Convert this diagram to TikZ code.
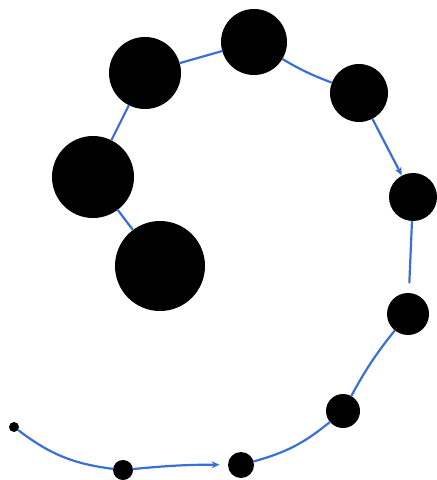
\documentclass[tikz,border=0pt]{standalone}
\usepackage{xcolor}
\usetikzlibrary{arrows.meta}
\definecolor{linkblue}{RGB}{58,112,214}

\begin{document}
\begin{tikzpicture}[
    x=0.5pt, y=-0.5pt,
    blob/.style={circle, fill=black, inner sep=0pt, minimum size=#1},
    link/.style={draw=linkblue, line width=1.1pt, line cap=round},
    arr/.style={link, -{Stealth[length=4pt, width=3.5pt]}}
]
    \useasboundingbox (0,0) rectangle (436,480);

    % spiral of dots, smallest first
    \node[blob=5pt]  (d1)  at (14,427)  {};
    \node[blob=10pt] (d2)  at (123,470) {};
    \node[blob=13pt] (d3)  at (241,465) {};
    \node[blob=17pt] (d4)  at (343,411) {};
    \node[blob=21pt] (d5)  at (408,314) {};
    \node[blob=24pt] (d6)  at (413,197) {};
    \node[blob=29pt] (d7)  at (359,93)  {};
    \node[blob=33pt] (d8)  at (254,42)  {};
    \node[blob=36pt] (d9)  at (145,73)  {};
    \node[blob=41pt] (d10) at (93,177)  {};
    \node[blob=45pt] (d11) at (160,266) {};

    \draw[link] (d1) to[bend right=15] (d2);
    \draw[arr, shorten >=4pt] (d2) to[bend left=3] (d3);
    \draw[link] (d3) to[bend right=12] (d4);
    \draw[link] (d4) to[bend left=5] (d5);
    \draw[link, shorten >=5pt] (d6) -- (d5);
    \draw[arr] (d7) -- (d6);
    \draw[link] (d8) to[bend right=5] (d7);
    \draw[link] (d9) -- (d8);
    \draw[link] (d9) -- (d10);
    \draw[link] (d10) -- (d11);
\end{tikzpicture}
\end{document}
